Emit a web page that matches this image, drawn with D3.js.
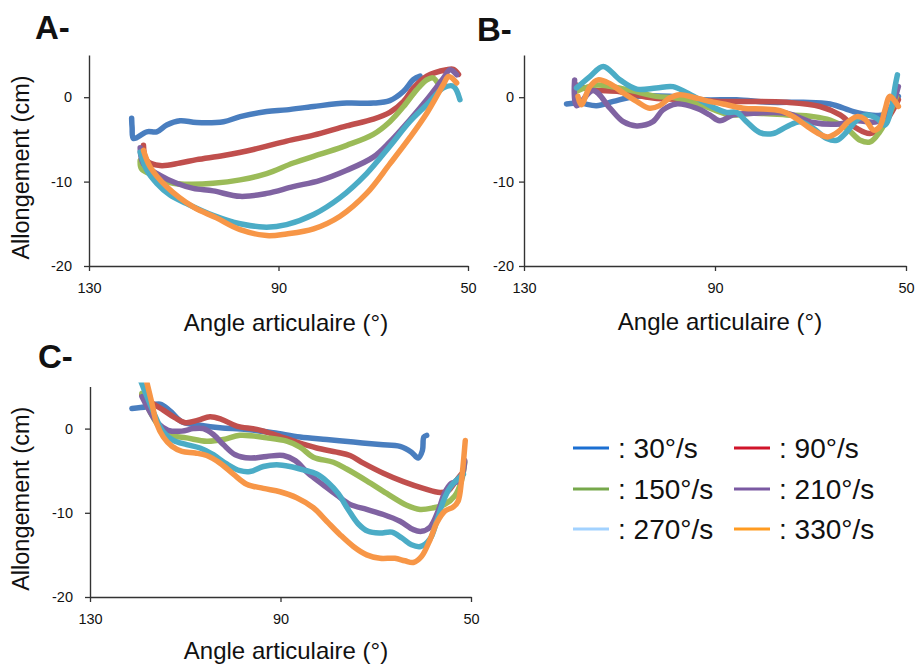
<!DOCTYPE html>
<html><head><meta charset="utf-8">
<script src="https://cdn.jsdelivr.net/npm/d3@7"></script>
<style>
body{margin:0;background:#fff}
svg{display:block}
text{font-family:"Liberation Sans",Arial,sans-serif;fill:#111}
</style>
</head><body>
<svg id="chart" width="916" height="664"></svg>
<script>
// ---------- data ----------
const speeds = ["30°/s", "90°/s", "150°/s", "210°/s", "270°/s", "330°/s"];
const xTicks = [130, 90, 50];
const yTicks = [0, -10, -20];
const xTitle = "Angle articulaire (°)";
const yTitle = "Allongement (cm)";

// Panel A  [angle (°), allongement (cm)]
const A_30 = [[121.0,-2.5],[120.9,-3.6],[120.6,-4.9],[117.8,-4.1],[115.7,-4.1],[113.6,-3.3],[110.8,-2.8],[107.3,-3.0],[101.6,-2.9],[98.1,-2.3],[92.5,-1.7],[88.3,-1.5],[82.6,-1.1],[75.6,-0.7],[70.0,-0.7],[66.5,-0.4],[63.6,0.7],[61.5,2.1],[60.1,2.5]];
const A_90 = [[118.5,-5.7],[117.8,-7.5],[115.0,-8.1],[110.8,-7.8],[107.3,-7.4],[101.6,-6.9],[95.3,-6.2],[88.3,-5.2],[82.6,-4.5],[75.6,-3.4],[70.0,-2.6],[66.5,-1.8],[63.6,-0.5],[61.5,1.1],[58.7,2.5],[54.5,3.25],[53.1,3.3],[52.0,2.7]];
const A_150 = [[119.2,-7.5],[118.9,-8.5],[116.4,-9.25],[112.2,-10.2],[108.7,-10.3],[103.8,-10.2],[98.1,-9.8],[92.5,-9.05],[86.9,-7.8],[81.2,-6.75],[75.6,-5.7],[70.0,-4.4],[66.5,-2.9],[63.6,-1.1],[60.8,0.9],[58.7,2.05],[57.4,2.3],[56.3,1.6]];
const A_210 = [[119.2,-6.0],[118.5,-7.9],[115.0,-9.25],[111.5,-10.2],[108.0,-10.8],[103.8,-11.1],[98.1,-11.75],[92.5,-11.4],[86.9,-10.6],[81.2,-9.85],[75.6,-8.65],[70.0,-7.1],[66.5,-5.3],[62.3,-2.7],[58.7,-0.3],[55.2,2.25],[53.8,3.25],[52.4,2.65]];
const A_270 = [[119.2,-6.5],[117.8,-8.65],[115.7,-10.2],[112.9,-11.6],[109.4,-12.6],[103.8,-14.0],[98.1,-15.0],[92.5,-15.4],[88.3,-15.1],[82.6,-13.9],[77.0,-11.9],[71.4,-9.05],[66.5,-5.8],[62.3,-2.9],[58.7,-0.9],[55.2,1.1],[53.1,1.3],[51.7,-0.3]];
const A_330 = [[118.5,-6.3],[117.1,-8.25],[113.6,-10.6],[108.0,-13.0],[103.1,-14.3],[98.1,-15.7],[92.5,-16.4],[88.3,-16.2],[82.6,-15.6],[77.0,-14.1],[71.4,-11.4],[66.5,-7.9],[62.3,-4.8],[58.7,-1.9],[55.2,1.5],[54.1,2.45],[52.4,1.7]];

// Panel B
const B_30 = [[121.1,-0.8],[118.3,-0.7],[114.8,-1.0],[111.3,-0.5],[106.4,0.1],[99.5,0.1],[92.5,-0.3],[85.5,-0.3],[78.5,-0.6],[71.5,-0.6],[65.9,-0.8],[61.0,-1.7],[57.5,-2.1],[54.8,-2.1],[52.7,-1.1],[51.6,0.1]];
const B_90 = [[119.0,1.45],[116.2,0.9],[109.9,0.65],[103.0,-0.1],[96.0,-0.3],[89.0,-0.5],[82.0,-0.5],[75.0,-0.6],[68.0,-1.1],[63.8,-2.1],[60.3,-3.7],[57.5,-4.3],[54.8,-3.3],[52.7,-1.5],[51.6,-0.3]];
const B_150 = [[119.0,0.7],[114.8,1.45],[108.5,0.9],[102.3,0.1],[98.1,-0.1],[92.5,-1.0],[86.9,-2.1],[82.0,-1.9],[75.0,-2.1],[69.4,-2.3],[65.9,-2.7],[62.4,-3.7],[59.6,-5.1],[57.5,-5.3],[55.5,-4.1],[53.4,-1.9],[52.0,0.1]];
const B_210 = [[119.4,2.05],[119.0,-1.0],[115.5,0.8],[112.0,-1.3],[109.2,-2.9],[106.4,-3.4],[103.0,-2.9],[100.9,-1.5],[98.1,-0.8],[93.9,-1.3],[91.1,-2.1],[89.0,-2.8],[86.2,-2.1],[82.0,-1.9],[75.0,-1.9],[69.4,-3.0],[64.5,-3.2],[60.3,-2.8],[56.1,-2.9],[53.4,-1.5],[51.6,1.25]];
const B_270 = [[119.0,1.1],[116.2,2.45],[113.4,3.65],[109.9,2.05],[106.4,0.95],[102.3,1.1],[98.8,1.25],[96.0,0.55],[93.2,-0.3],[90.4,-1.2],[87.6,-1.8],[85.5,-1.8],[83.4,-2.9],[80.6,-4.2],[77.8,-4.3],[75.0,-3.5],[72.2,-2.9],[69.4,-3.7],[66.6,-4.9],[64.5,-5.1],[62.4,-4.1],[60.3,-2.7],[58.2,-2.1],[56.1,-2.5],[54.4,-3.3],[53.0,-1.1],[52.3,1.25],[51.8,2.65]];
const B_330 = [[118.7,0.1],[118.0,-0.9],[116.2,1.25],[114.5,2.05],[112.0,1.6],[109.2,0.5],[106.4,-0.5],[103.7,-1.3],[101.6,-1.0],[99.5,-0.1],[97.4,0.3],[94.6,0.0],[91.8,-0.4],[88.3,-0.8],[84.1,-1.3],[79.9,-1.4],[76.4,-1.6],[73.6,-2.3],[70.8,-3.4],[68.0,-4.4],[66.3,-4.7],[64.2,-4.1],[62.1,-2.9],[60.3,-2.3],[58.6,-2.6],[56.8,-3.9],[55.5,-3.5],[54.4,-1.5],[53.4,0.1],[52.3,-0.5],[51.6,-1.1]];

// Panel C
const C_30 = [[121.2,2.4],[118.1,2.6],[115.3,2.9],[113.2,2.1],[110.7,0.8],[106.9,0.4],[102.7,0.1],[97.1,-0.1],[91.5,-0.5],[85.9,-1.0],[80.3,-1.3],[74.7,-1.6],[69.1,-1.9],[64.9,-2.1],[62.5,-2.8],[61.1,-3.5],[60.2,-2.6],[59.9,-1.0],[59.3,-0.8]];
const C_90 = [[119.1,4.0],[117.4,3.2],[114.6,2.2],[112.2,1.3],[110.0,0.7],[107.3,1.0],[104.8,1.4],[102.4,1.1],[99.2,0.3],[95.0,-0.1],[90.8,-0.8],[86.6,-1.6],[82.4,-2.3],[78.2,-2.8],[75.4,-3.2],[72.6,-4.1],[68.4,-5.3],[64.2,-6.3],[60.0,-7.1],[56.5,-7.6],[54.8,-7.4],[53.4,-6.4],[52.0,-5.4]];
const C_150 = [[119.1,4.2],[117.4,2.0],[115.7,0.4],[113.9,-0.7],[109.7,-1.1],[105.5,-1.5],[102.0,-1.3],[98.5,-0.8],[92.9,-1.1],[88.7,-1.5],[85.9,-2.2],[83.1,-3.4],[78.9,-4.0],[76.1,-4.8],[71.9,-6.2],[67.7,-7.7],[63.5,-9.1],[60.7,-9.6],[57.9,-9.4],[55.5,-9.0],[53.4,-8.0],[52.0,-6.2],[51.3,-4.0]];
const C_210 = [[119.1,3.8],[117.4,2.0],[115.7,0.6],[113.6,-0.2],[110.7,-0.3],[108.3,0.0],[106.2,0.0],[104.1,-0.7],[102.0,-1.9],[99.5,-3.1],[96.4,-3.5],[92.9,-3.3],[89.4,-3.2],[86.9,-3.8],[84.2,-5.3],[81.0,-6.7],[78.2,-7.9],[75.4,-9.0],[71.9,-9.6],[68.4,-10.2],[64.9,-11.0],[62.1,-12.0],[60.4,-12.2],[58.6,-11.7],[56.9,-9.8],[55.5,-7.6],[54.1,-6.5],[52.3,-6.2],[51.3,-3.8]];
const C_270 = [[119.3,5.6],[116.7,2.0],[114.6,-0.4],[112.5,-1.4],[109.7,-1.9],[106.9,-2.3],[104.1,-3.1],[101.3,-4.2],[98.5,-5.0],[96.4,-5.1],[93.6,-4.5],[90.8,-4.3],[88.0,-4.5],[85.2,-4.9],[82.4,-5.4],[80.0,-6.4],[77.9,-7.7],[75.8,-9.6],[73.7,-11.3],[71.6,-12.2],[69.1,-12.4],[66.6,-12.3],[64.5,-13.0],[62.5,-13.8],[60.6,-14.0],[58.6,-13.1],[57.2,-11.0],[55.8,-8.6],[54.4,-7.0],[53.0,-6.1],[51.6,-5.4]];
const C_330 = [[118.2,5.8],[117.0,3.0],[116.0,0.6],[114.6,-1.0],[112.8,-2.1],[110.7,-2.7],[107.9,-2.9],[105.5,-3.2],[102.7,-4.1],[99.9,-5.4],[97.1,-6.6],[93.6,-7.1],[90.1,-7.5],[86.6,-8.2],[83.1,-9.4],[80.3,-11.0],[77.5,-12.6],[74.7,-14.0],[71.9,-15.0],[69.1,-15.4],[66.0,-15.4],[63.9,-15.7],[62.1,-15.9],[60.4,-15.2],[58.6,-13.2],[57.2,-11.2],[55.5,-9.8],[53.7,-9.3],[52.7,-8.6],[52.0,-6.2],[51.5,-3.4],[51.2,-1.4]];

const lineColors = ["#4a7ebf", "#c0504d", "#9bbb59", "#8064a2", "#4bacc6", "#f79646"];
const legendColors = ["#1b6fd2", "#d0142a", "#76a84b", "#7a59a2", "#a2d2ff", "#ff9b21"];

// ---------- layout ----------
const panels = [
  {label: "A-", lx: 35, ly: 39, series: [A_30, A_90, A_150, A_210, A_270, A_330],
   xr: [89, 468], yr: [266, 55], yPad: 12, yTitle: true, titleX: 286, titleY: 331},
  {label: "B-", lx: 477, ly: 41, series: [B_30, B_90, B_150, B_210, B_270, B_330],
   xr: [524, 906], yr: [266, 55], yPad: 5, yTitle: false, titleX: 720, titleY: 330},
  {label: "C-", lx: 38, ly: 368, series: [C_30, C_90, C_150, C_210, C_270, C_330],
   xr: [90, 471], yr: [597, 386.5], yPad: 12, yTitle: true, titleX: 286, titleY: 659}
];

const svg = d3.select("#chart");
const defs = svg.append("defs");
defs.append("filter").attr("id", "soft").attr("x", "-5%").attr("y", "-5%").attr("width", "110%").attr("height", "110%")
  .append("feGaussianBlur").attr("stdDeviation", 0.7);

panels.forEach((p, i) => {
  const x = d3.scaleLinear().domain([130, 50]).range(p.xr);
  const y = d3.scaleLinear().domain([-20, 5]).range(p.yr);
  const g = svg.append("g");

  defs.append("clipPath").attr("id", "clip" + i).append("rect")
    .attr("x", p.xr[0]).attr("y", p.yr[1] - 4)
    .attr("width", p.xr[1] - p.xr[0] + 6).attr("height", p.yr[0] - p.yr[1] + 4);

  const line = d3.line().x(d => x(d[0])).y(d => y(d[1])).curve(d3.curveCatmullRom.alpha(0.5));
  const sg = g.append("g").attr("clip-path", `url(#clip${i})`).attr("filter", "url(#soft)");
  p.series.forEach((s, k) => {
    sg.append("path").datum(s).attr("d", line)
      .attr("fill", "none").attr("stroke", lineColors[k])
      .attr("stroke-width", 5.5).attr("stroke-linejoin", "round").attr("stroke-linecap", "round");
  });

  const yAxis = g.append("g").attr("transform", `translate(${p.xr[0]},0)`)
    .call(d3.axisLeft(y).tickValues(yTicks).tickSize(5).tickSizeOuter(0).tickPadding(p.yPad).tickFormat(d => String(d)));
  const xAxis = g.append("g").attr("transform", `translate(0,${p.yr[0]})`)
    .call(d3.axisBottom(x).tickValues(xTicks).tickSize(5).tickSizeOuter(0).tickPadding(12).tickFormat(d => String(d)));
  [yAxis, xAxis].forEach(a => {
    a.select(".domain").attr("stroke", "#333").attr("stroke-width", 1.4);
    a.selectAll(".tick line").attr("stroke", "#333").attr("stroke-width", 1.3);
    a.selectAll(".tick text").style("font-size", "14.5px").attr("fill", "#222")
      .style("font-family", '"Liberation Sans",Arial,sans-serif');
  });

  g.append("text").attr("x", p.lx).attr("y", p.ly).text(p.label)
    .style("font-size", "33px").style("font-weight", "bold");
  g.append("text").attr("x", p.titleX).attr("y", p.titleY).attr("text-anchor", "middle")
    .style("font-size", "24px").text(xTitle);
  if (p.yTitle) {
    const cy = (p.yr[0] + p.yr[1]) / 2 + 7;
    g.append("text").attr("transform", `translate(29,${cy}) rotate(-90)`).attr("text-anchor", "middle")
      .style("font-size", "23.5px").text(yTitle);
  }
});

// ---------- legend ----------
const legCols = [573, 734];
const legRows = [448, 489, 529];
const leg = svg.append("g");
speeds.forEach((s, k) => {
  const cx = legCols[k % 2], cy = legRows[Math.floor(k / 2)];
  leg.append("line").attr("x1", cx).attr("x2", cx + 36).attr("y1", cy).attr("y2", cy)
    .attr("stroke", legendColors[k]).attr("stroke-width", 3.2);
  leg.append("text").attr("x", cx + 45).attr("y", cy + 10).style("font-size", "28px").text(": " + s);
});
</script>
</body></html>
